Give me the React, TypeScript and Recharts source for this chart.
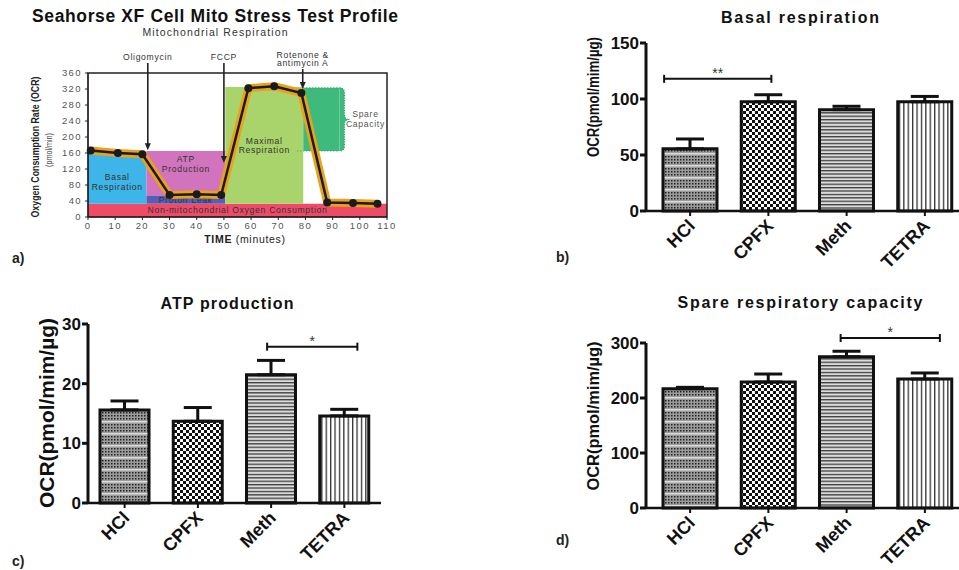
import React from "react";
import {
  ComposedChart,
  Line,
  XAxis,
  YAxis,
  ReferenceArea,
  ReferenceLine,
  BarChart,
  Bar,
  Cell,
  ErrorBar,
} from "recharts";

const FONT = '"Liberation Sans", Arial, sans-serif';

// ---- panel a: Seahorse XF mito stress test profile
const timeMin = [1, 11, 20, 30, 40, 49, 59, 68.5, 78.5, 88, 97.5, 106.5];
const ocrRate = [166, 160, 157, 55, 57, 55, 322, 327, 310, 36, 35, 33];
const timeTicks = [0, 10, 20, 30, 40, 50, 60, 70, 80, 90, 100, 110];
const ocrTicks = [0, 40, 80, 120, 160, 200, 240, 280, 320, 360];

const regionText = [
  ["Non-mitochondrial Oxygen Consumption"],
  ["Basal", "Respiration"],
  ["ATP", "Production"],
  ["Proton Leak"],
  ["Maximal", "Respiration"],
];
const regionX1 = [0, 0, 21.5, 21.5, 50.5];
const regionX2 = [110, 21.5, 50.5, 50.5, 79.2];
const regionY1 = [0, 33, 54, 33, 33];
const regionY2 = [33, 162, 165, 54, 325];
const spareX = [79.2, 92.5];
const spareY = [165, 323];

const injectionText = [["Oligomycin"], ["FCCP"], ["Rotenone &", "antimycin A"]];
const injectionTime = [22, 50, 79];
const injectionTop = [385, 385, 370];
const injectionTip = [167, 135, 320];

// ---- panels b, c, d
const groups = ["HCl", "CPFX", "Meth", "TETRA"];
const basalMean = [55.5, 97.5, 90.5, 97.5];
const basalSem = [8.8, 6.3, 3.0, 4.8];
const atpMean = [15.6, 13.7, 21.5, 14.6];
const atpSem = [1.5, 2.3, 2.4, 1.1];
const spareMean = [217, 229, 275, 234.5];
const spareSem = [2.4, 14.6, 10, 11];
const basalTicks = [0, 50, 100, 150];
const atpTicks = [0, 10, 20, 30];
const spareTicks = [0, 100, 200, 300];

const regionFill = ["#ee4b68", "#3db5e8", "#d273bd", "#5b5db4", "#a9d46c"];
const regionLabelDy = [0, 4, -9, 0, 0];
const barFill = ["url(#pat-hcl)", "url(#pat-cpfx)", "url(#pat-meth)", "url(#pat-tetra)"];

function PatternDefs() {
  return (
    <svg width={0} height={0} style={{ position: "absolute" }}>
      <defs>
        <pattern id="pat-hcl" width={3} height={12} patternUnits="userSpaceOnUse">
          <rect width={3} height={12} fill="#9c9c9c" />
          <rect x={0} y={0} width={1.5} height={1.5} fill="#222" />
          <rect x={0} y={3} width={1.5} height={1.5} fill="#222" />
          <rect x={0} y={6} width={1.5} height={1.5} fill="#222" />
          <rect x={0} y={9} width={3} height={1.5} fill="#dcdcdc" />
        </pattern>
        <pattern id="pat-cpfx" width={6} height={6} patternUnits="userSpaceOnUse">
          <rect width={6} height={6} fill="#fff" />
          <rect x={0} y={0} width={3} height={3} fill="#111" />
          <rect x={3} y={3} width={3} height={3} fill="#111" />
        </pattern>
        <pattern id="pat-meth" width={4} height={3.4} patternUnits="userSpaceOnUse">
          <rect width={4} height={3.4} fill="#dcdcdc" />
          <rect x={0} y={0} width={4} height={1.3} fill="#3c3c3c" />
        </pattern>
        <pattern id="pat-tetra" width={4.4} height={4} patternUnits="userSpaceOnUse">
          <rect width={4.4} height={4} fill="#fff" />
          <rect x={0} y={0} width={1.3} height={4} fill="#333" />
        </pattern>
      </defs>
    </svg>
  );
}

function AngledTick(props: any) {
  const { x, y, payload } = props;
  const tx = x + 6;
  const ty = y + 9;
  return (
    <text
      x={tx}
      y={ty}
      transform={`rotate(-45 ${tx} ${ty})`}
      textAnchor="end"
      fontSize={18}
      fontWeight={700}
      fontFamily={FONT}
      fill="#111"
    >
      {payload.value}
    </text>
  );
}

function bracketShape(text: string, dx1: number, dx2: number) {
  return (p: any) => {
    const a = Math.min(p.x1, p.x2) + dx1;
    const b = Math.max(p.x1, p.x2) + dx2;
    const y = p.y1;
    return (
      <g stroke="#111" strokeWidth={2}>
        <line x1={a} y1={y} x2={b} y2={y} />
        <line x1={a} y1={y - 4} x2={a} y2={y + 4} />
        <line x1={b} y1={y - 4} x2={b} y2={y + 4} />
        <text x={(a + b) / 2} y={y - 1} textAnchor="middle" fontSize={14} fontFamily={FONT} fill="#333" stroke="none">
          {text}
        </text>
      </g>
    );
  };
}

type PanelProps = {
  means: number[];
  sems: number[];
  ticks: number[];
  width: number;
  height: number;
  top: number;
  bottom: number;
  axisH: number;
  axisW: number;
  pad: { left: number; right: number };
  barSize: number;
  label: { x: number; y: number; len: number; size: number };
  bracket: { from: number; to: number; y: number; text: string; dx1: number; dx2: number };
};

function BarPanel({ means, sems, ticks, width, height, top, bottom, axisH, axisW, pad, barSize, label, bracket }: PanelProps) {
  const data = groups.map((g, i) => ({ group: g, mean: means[i], sem: [0, sems[i]] }));
  return (
    <BarChart width={width} height={height} data={data} margin={{ top, right: 0, bottom, left: 0 }} barSize={barSize}>
      <XAxis
        dataKey="group"
        height={axisH}
        interval={0}
        padding={pad}
        axisLine={{ stroke: "#111", strokeWidth: 2.5 }}
        tickLine={{ stroke: "#111", strokeWidth: 2 }}
        tickSize={5}
        tick={<AngledTick />}
      />
      <YAxis
        type="number"
        domain={[0, ticks[ticks.length - 1]]}
        ticks={ticks}
        width={axisW}
        axisLine={{ stroke: "#111", strokeWidth: 3 }}
        tickLine={{ stroke: "#111", strokeWidth: 3 }}
        tickSize={6}
        tickMargin={1}
        tick={{ fill: "#111", fontSize: 17, fontWeight: 700, fontFamily: FONT }}
        label={{
          content: () => (
            <text
              x={label.x}
              y={label.y}
              transform={`rotate(-90 ${label.x} ${label.y})`}
              textAnchor="middle"
              dominantBaseline="central"
              fontSize={label.size}
              fontWeight={700}
              fontFamily={FONT}
              fill="#111"
              textLength={label.len}
              lengthAdjust="spacingAndGlyphs"
            >
              OCR(pmol/mim/µg)
            </text>
          ),
        }}
      />
      <Bar dataKey="mean" stroke="#111" strokeWidth={3} isAnimationActive={false}>
        {data.map((d, i) => (
          <Cell key={d.group} fill={barFill[i]} />
        ))}
        <ErrorBar dataKey="sem" direction="y" width={14} stroke="#111" strokeWidth={3} isAnimationActive={false} />
      </Bar>
      <ReferenceLine
        segment={[
          { x: groups[bracket.from], y: bracket.y },
          { x: groups[bracket.to], y: bracket.y },
        ]}
        ifOverflow="visible"
        shape={bracketShape(bracket.text, bracket.dx1, bracket.dx2)}
      />
    </BarChart>
  );
}

function regionLabel(lines: string[], dy: number) {
  return (props: any) => {
    const vb = props.viewBox || {};
    const cx = vb.x + vb.width / 2;
    const cy = vb.y + vb.height / 2 + dy;
    const y0 = cy - ((lines.length - 1) * 9.5) / 2 + 3;
    return (
      <g>
        {lines.map((s, k) => (
          <text key={s} x={cx} y={y0 + k * 9.5} textAnchor="middle" fontSize={8.6} letterSpacing={0.7} fontFamily={FONT} fill="#333">
            {s}
          </text>
        ))}
      </g>
    );
  };
}

function spareLabel(props: any) {
  const vb = props.viewBox || {};
  const bx = vb.x + vb.width;
  const t = vb.y;
  const b = vb.y + vb.height;
  const m = (t + b) / 2;
  const d = `M${bx},${t} Q${bx + 5},${t} ${bx + 5},${t + 5} L${bx + 5},${m - 5} Q${bx + 5},${m} ${bx + 10},${m} Q${bx + 5},${m} ${bx + 5},${m + 5} L${bx + 5},${b - 5} Q${bx + 5},${b} ${bx},${b}`;
  return (
    <g>
      <path d={d} fill="#3dba7c" stroke="#2a9a5f" strokeWidth={1.2} strokeDasharray="1 1.5" />
      <text x={bx + 26} y={m - 2} textAnchor="middle" fontSize={8.6} letterSpacing={0.7} fontFamily={FONT} fill="#555">
        Spare
      </text>
      <text x={bx + 26} y={m + 7.5} textAnchor="middle" fontSize={8.6} letterSpacing={0.7} fontFamily={FONT} fill="#555">
        Capacity
      </text>
    </g>
  );
}

function injectionArrow(lines: string[]) {
  return (p: any) => {
    const x = p.x1;
    const top = Math.min(p.y1, p.y2);
    const tip = Math.max(p.y1, p.y2);
    return (
      <g>
        <line x1={x} y1={top} x2={x} y2={tip - 5} stroke="#222" strokeWidth={1.6} />
        <polygon points={`${x - 3},${tip - 7} ${x + 3},${tip - 7} ${x},${tip}`} fill="#222" />
        {lines.map((s, k) => (
          <text
            key={s}
            x={x}
            y={top - 3 - (lines.length - 1 - k) * 8.5}
            textAnchor="middle"
            fontSize={8.6}
            letterSpacing={0.7}
            fontFamily={FONT}
            fill="#333"
          >
            {s}
          </text>
        ))}
      </g>
    );
  };
}

function ProfileChart() {
  const data = timeMin.map((t, i) => ({ t, ocr: ocrRate[i] }));
  const tickStyle = { fill: "#555", fontSize: 9.5, fontFamily: FONT, letterSpacing: 1.4 };
  return (
    <ComposedChart width={400} height={250} data={data} margin={{ top: 73, right: 13, bottom: 13, left: 58 }}>
      <XAxis
        type="number"
        dataKey="t"
        domain={[0, 110]}
        ticks={timeTicks}
        height={20}
        tickSize={3}
        stroke="#222"
        tick={tickStyle}
        label={{
          content: () => (
            <text x={245} y={243} textAnchor="middle" fontSize={10.5} fontFamily={FONT} fill="#222" letterSpacing={0.7}>
              <tspan fontWeight={700}>TIME</tspan>
              <tspan> (minutes)</tspan>
            </text>
          ),
        }}
      />
      <YAxis
        type="number"
        domain={[0, 360]}
        ticks={ocrTicks}
        width={30}
        tickSize={3}
        tickMargin={3}
        stroke="#222"
        tick={tickStyle}
        label={{
          content: () => (
            <g fontFamily={FONT} fill="#222">
              <text x={35} y={147} transform="rotate(-90 35 147)" textAnchor="middle" dominantBaseline="central" fontSize={11.5} fontWeight={700} textLength={141} lengthAdjust="spacingAndGlyphs">
                Oxygen Consumption Rate (OCR)
              </text>
              <text x={48} y={150} transform="rotate(-90 48 150)" textAnchor="middle" dominantBaseline="central" fontSize={9.5} fill="#444" textLength={34} lengthAdjust="spacingAndGlyphs">
                (pmol/min)
              </text>
            </g>
          ),
        }}
      />
      {regionText.map((lines, i) => (
        <ReferenceArea
          key={lines.join(" ")}
          x1={regionX1[i]}
          x2={regionX2[i]}
          y1={regionY1[i]}
          y2={regionY2[i]}
          fill={regionFill[i]}
          fillOpacity={1}
          stroke="none"
          label={regionLabel(lines, regionLabelDy[i])}
        />
      ))}
      <ReferenceArea
        x1={spareX[0]}
        x2={spareX[1]}
        y1={spareY[0]}
        y2={spareY[1]}
        fill="#3dba7c"
        fillOpacity={1}
        stroke="none"
        label={spareLabel}
      />
      <ReferenceLine
        segment={[{ x: spareX[0], y: spareY[1] }, { x: spareX[1], y: spareY[1] }]}
        stroke="#2a9a5f"
        strokeDasharray="1 2"
      />
      <ReferenceLine
        segment={[{ x: 77, y: spareY[0] }, { x: spareX[1], y: spareY[0] }]}
        stroke="#2a9a5f"
        strokeDasharray="1 2"
      />
      <ReferenceArea x1={0} x2={110} y1={0} y2={360} fill="none" fillOpacity={0} stroke="#222" strokeWidth={1.5} />
      <Line dataKey="ocr" stroke="#e8a21c" strokeWidth={8} strokeLinejoin="round" dot={false} isAnimationActive={false} />
      <Line
        dataKey="ocr"
        stroke="#1b1b1b"
        strokeWidth={2.5}
        dot={{ r: 4, fill: "#1b1b1b", stroke: "#1b1b1b", strokeWidth: 0 }}
        isAnimationActive={false}
      />
      {injectionText.map((lines, i) => (
        <ReferenceLine
          key={lines[0]}
          segment={[
            { x: injectionTime[i], y: injectionTop[i] },
            { x: injectionTime[i], y: injectionTip[i] },
          ]}
          ifOverflow="visible"
          shape={injectionArrow(lines)}
        />
      ))}
    </ComposedChart>
  );
}

export default function App() {
  const place = (left: number, top: number): React.CSSProperties => ({ position: "absolute", left, top });
  return (
    <div
      style={{
        position: "absolute",
        left: 0,
        top: 0,
        width: 959,
        height: 570,
        overflow: "hidden",
        background: "#fff",
        fontFamily: FONT,
      }}
    >
      <PatternDefs />
      <div style={place(0, 0)}>
        <ProfileChart />
      </div>
      <div style={place(560, 0)}>
        <BarPanel
          means={basalMean}
          sems={basalSem}
          ticks={basalTicks}
          width={399}
          height={280}
          top={43}
          bottom={10}
          axisH={59}
          axisW={86}
          pad={{ left: 5, right: -5 }}
          barSize={54}
          label={{ x: 33, y: 97, len: 120, size: 17 }}
          bracket={{ from: 0, to: 1, y: 118, text: "**", dx1: -26, dx2: 3 }}
        />
      </div>
      <div style={place(0, 280)}>
        <BarPanel
          means={atpMean}
          sems={atpSem}
          ticks={atpTicks}
          width={381}
          height={290}
          top={44}
          bottom={0}
          axisH={67}
          axisW={88}
          pad={{ left: 0, right: 0 }}
          barSize={49}
          label={{ x: 47, y: 133, len: 190, size: 20 }}
          bracket={{ from: 2, to: 3, y: 26.2, text: "*", dx1: -4, dx2: 13 }}
        />
      </div>
      <div style={place(560, 280)}>
        <BarPanel
          means={spareMean}
          sems={spareSem}
          ticks={spareTicks}
          width={399}
          height={290}
          top={63}
          bottom={0}
          axisH={62}
          axisW={86}
          pad={{ left: 5, right: -5 }}
          barSize={54}
          label={{ x: 33, y: 136, len: 149, size: 17 }}
          bracket={{ from: 2, to: 3, y: 309, text: "*", dx1: -6, dx2: 15 }}
        />
      </div>
      <svg width={959} height={570} style={{ position: "absolute", left: 0, top: 0, pointerEvents: "none" }} fontFamily={FONT}>
        <text x={215} y={22} textAnchor="middle" fontSize={17.5} fontWeight={700} fill="#111" textLength={366} lengthAdjust="spacing">
          Seahorse XF Cell Mito Stress Test Profile
        </text>
        <text x={215} y={36} textAnchor="middle" fontSize={10.5} fill="#333" textLength={145} lengthAdjust="spacing">
          Mitochondrial Respiration
        </text>
        <text x={800} y={23} textAnchor="middle" fontSize={16} fontWeight={700} fill="#111" textLength={158} lengthAdjust="spacing">
          Basal respiration
        </text>
        <text x={227} y={309} textAnchor="middle" fontSize={16} fontWeight={700} fill="#111" textLength={133} lengthAdjust="spacing">
          ATP production
        </text>
        <text x={800} y={308} textAnchor="middle" fontSize={16} fontWeight={700} fill="#111" textLength={245} lengthAdjust="spacing">
          Spare respiratory capacity
        </text>
        <text x={12} y={263} fontSize={14} fontWeight={700} fill="#222">a)</text>
        <text x={556} y={262} fontSize={14} fontWeight={700} fill="#222">b)</text>
        <text x={12} y={566} fontSize={14} fontWeight={700} fill="#222">c)</text>
        <text x={556} y={545} fontSize={14} fontWeight={700} fill="#222">d)</text>
      </svg>
    </div>
  );
}
